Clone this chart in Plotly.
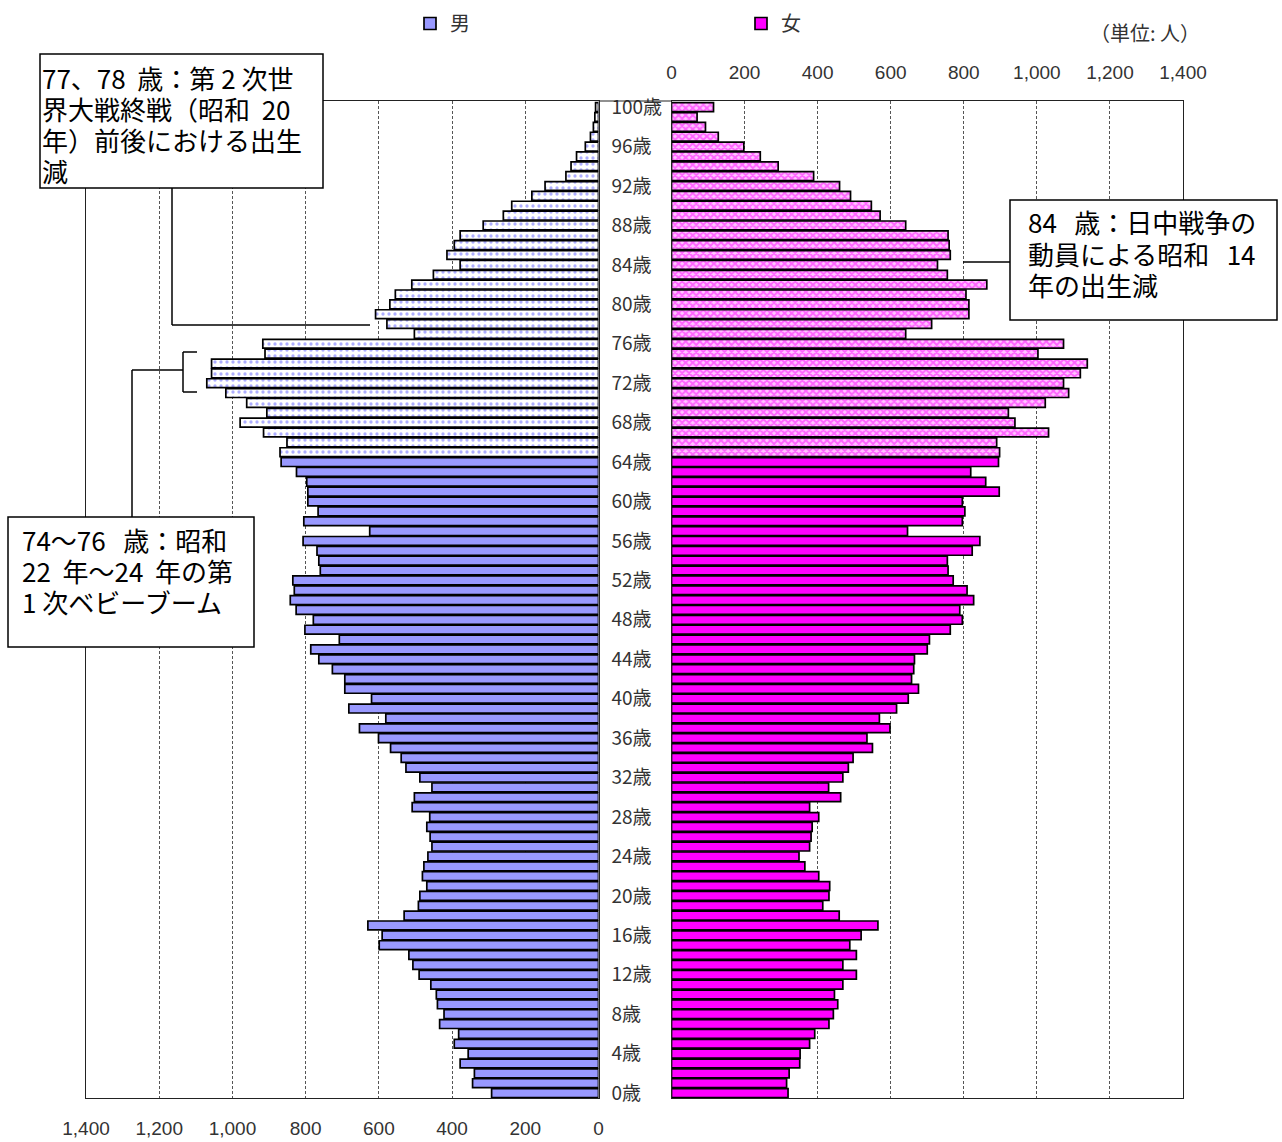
import plotly.graph_objects as go

W, H = 1282, 1142

# ---------------- data (population by single year of age, 0..100) ----------------
ages = list(range(0, 101))
male = [292, 344, 339, 378, 356, 394, 382, 434, 422, 440,
        443, 458, 490, 507, 518, 599, 591, 630, 531, 492,
        488, 469, 481, 477, 466, 455, 460, 469, 461, 509,
        503, 455, 488, 526, 539, 568, 601, 653, 581, 682,
        620, 693, 693, 727, 764, 786, 708, 802, 779, 826,
        842, 831, 835, 760, 764, 769, 807, 625, 805, 766,
        794, 794, 797, 825, 867, 870, 851, 915, 979, 906,
        961, 1018, 1070, 1057, 1057, 911, 917, 503, 578, 609,
        570, 555, 510, 451, 378, 414, 394, 378, 315, 260,
        237, 182, 146, 89, 75, 60, 36, 22, 14, 10,
        8]
female = [319, 315, 322, 351, 352, 378, 392, 431, 443, 455,
          446, 469, 506, 469, 506, 488, 519, 565, 459, 414,
          431, 433, 403, 365, 349, 378, 382, 385, 403, 378,
          463, 430, 469, 484, 497, 550, 535, 598, 569, 616,
          648, 676, 657, 663, 665, 700, 706, 763, 796, 789,
          827, 809, 771, 757, 755, 823, 844, 646, 796, 803,
          796, 897, 860, 819, 895, 898, 890, 1032, 940, 922,
          1023, 1087, 1073, 1119, 1138, 1003, 1073, 641, 712, 814,
          814, 806, 863, 755, 728, 763, 760, 757, 641, 571,
          547, 490, 460, 389, 292, 243, 198, 128, 93, 70,
          115]
elderly_from = 65
age_ticks = list(range(0, 101, 4))
age_tick_labels = [f"{a}歳" for a in age_ticks]
x_ticks = list(range(0, 1401, 200))
x_tick_labels = [f"{v:,}" for v in x_ticks]
legend_names = ["男", "女"]
unit_label = "（単位: 人）"
NB = "\u00a0"
note_1 = [f"77、78{NB}{NB}歳：第 2 次世", f"界大戦終戦（昭和{NB}{NB}20", "年）前後における出生", "減"]
note_2 = [f"84{NB}{NB}{NB}歳：日中戦争の", f"動員による昭和{NB}{NB}{NB}14", "年の出生減"]
note_3 = [f"74～76{NB}{NB}{NB}歳：昭和", f"22{NB}{NB}年～24{NB}{NB}年の第", "1 次ベビーブーム"]

# ---------------- helpers ----------------
def px(x):
    return x / W


def py(y):
    return 1 - y / H


young = [a for a in ages if a < elderly_from]
old = [a for a in ages if a >= elderly_from]

MALE_C = "#9999FF"
FEMALE_C = "#FF00FF"
OUTLINE = dict(color="#000000", width=1.7)
TICK_FONT = dict(family="Liberation Sans, Arial, sans-serif", size=19, color="#333333")
AGE_FONT = dict(family="Noto Sans CJK JP, sans-serif", size=19, color="#333333")
NOTE_FONT = dict(family="Noto Sans CJK JP, sans-serif", size=26, color="#000000")

fig = go.Figure()

fig.add_trace(go.Bar(
    y=young, x=[male[a] for a in young], orientation="h",
    xaxis="x", yaxis="y", name=legend_names[0], showlegend=True,
    marker=dict(color=MALE_C, line=OUTLINE), legendrank=1,
))
fig.add_trace(go.Bar(
    y=old, x=[male[a] for a in old], orientation="h",
    xaxis="x", yaxis="y", name=legend_names[0], showlegend=False,
    marker=dict(color="white", line=OUTLINE,
                pattern=dict(shape=".", fgcolor="#5c5cff", bgcolor="white",
                             size=6, solidity=0.24)),
))
fig.add_trace(go.Bar(
    y=young, x=[female[a] for a in young], orientation="h",
    xaxis="x2", yaxis="y2", name=legend_names[1], showlegend=True,
    marker=dict(color=FEMALE_C, line=OUTLINE), legendrank=2,
))
fig.add_trace(go.Bar(
    y=old, x=[female[a] for a in old], orientation="h",
    xaxis="x2", yaxis="y2", name=legend_names[1], showlegend=False,
    marker=dict(color="white", line=OUTLINE,
                pattern=dict(shape="x", fgcolor=FEMALE_C, bgcolor="#ffc4ff",
                             size=5, solidity=0.62)),
))

Y_TOP, Y_BOT = 101, 1098
X_L0, X_L1 = 86, 598.5
X_R0, X_R1 = 671.5, 1183
ydom = [py(Y_BOT), py(Y_TOP)]

axis_common = dict(
    showline=True, linecolor="#222222", linewidth=1.2, mirror=True,
    showgrid=True, gridcolor="#555555", gridwidth=1, griddash="3px,2px",
    zeroline=False, ticks="", tickvals=x_ticks, ticktext=x_tick_labels,
    tickfont=TICK_FONT, fixedrange=True, automargin=False,
)

fig.update_layout(
    width=W, height=H, autosize=False,
    margin=dict(l=0, r=0, t=0, b=0, pad=0, autoexpand=False),
    paper_bgcolor="white", plot_bgcolor="white",
    barmode="overlay", bargap=0.1,
    xaxis=dict(domain=[px(X_L0), px(X_L1)], range=[1400, 0], anchor="y",
               side="bottom", ticklabelstandoff=13, **axis_common),
    xaxis2=dict(domain=[px(X_R0), px(X_R1)], range=[0, 1400], anchor="y2",
                side="top", ticklabelstandoff=13, **axis_common),
    yaxis=dict(domain=ydom, range=[-0.5, 100.62], anchor="x", side="right",
               tickvals=age_ticks, ticktext=age_tick_labels, tickfont=AGE_FONT,
               ticks="", ticklabelstandoff=8, automargin=False, fixedrange=True,
               showline=True, linecolor="#222222", linewidth=1.2, mirror=True,
               showgrid=False, zeroline=False),
    yaxis2=dict(domain=ydom, matches="y", anchor="x2", side="left",
                showticklabels=False, ticks="", automargin=False, fixedrange=True,
                showline=True, linecolor="#222222", linewidth=1.2, mirror=True,
                showgrid=False, zeroline=False),
    showlegend=True,
    legend=dict(orientation="h", x=px(410), xanchor="left", y=py(4), yanchor="top",
                entrywidth=286, entrywidthmode="pixels", itemwidth=30,
                font=dict(family="Noto Sans CJK JP, sans-serif", size=20, color="#333333"),
                bgcolor="rgba(0,0,0,0)", traceorder="normal"),
)

shapes = []
# top border segment across the age label column
shapes.append(dict(type="line", xref="paper", yref="paper",
                   x0=px(X_L1), x1=px(X_R0), y0=py(Y_TOP), y1=py(Y_TOP),
                   line=dict(color="#222222", width=1.2)))

LINE = dict(color="#000000", width=1.5)


def seg(x0, y0, x1, y1):
    shapes.append(dict(type="line", xref="paper", yref="paper",
                       x0=px(x0), x1=px(x1), y0=py(y0), y1=py(y1), line=LINE))


def box(x0, y0, x1, y1):
    shapes.append(dict(type="rect", xref="paper", yref="paper",
                       x0=px(x0), x1=px(x1), y0=py(y0), y1=py(y1),
                       line=dict(color="#000000", width=1.5), fillcolor="white"))


# note 1 connector + box
seg(172, 188, 172, 325)
seg(172, 325, 370, 325)
box(40, 54, 323, 188)
# note 2 connector + box
seg(963, 262, 1010, 262)
box(1010, 200, 1277, 320)
# note 3 bracket/connector + box
seg(132, 517, 132, 370)
seg(132, 370, 183, 370)
seg(183, 352, 183, 392)
seg(183, 352, 197, 352)
seg(183, 392, 197, 392)
box(8, 517, 254, 647)

fig.update_layout(shapes=shapes)

annotations = []


def note(lines, x_left, y_first, spacing):
    for i, line in enumerate(lines):
        annotations.append(dict(
            xref="paper", yref="paper", x=px(x_left), y=py(y_first + i * spacing),
            xanchor="left", yanchor="middle", text=line, align="left",
            showarrow=False, font=NOTE_FONT, borderpad=0))


note(note_1, 41, 77, 31.3)
note(note_2, 1027, 221.5, 31.7)
note(note_3, 21, 540, 30.5)

annotations.append(dict(
    xref="paper", yref="paper", x=px(1145), y=py(32), xanchor="center", yanchor="middle",
    text=unit_label, showarrow=False,
    font=dict(family="Noto Sans CJK JP, sans-serif", size=20, color="#333333")))
fig.update_layout(annotations=annotations)

fig.write_html("out.html", config={"displayModeBar": False},
               post_script="document.body.style.margin='0';")
